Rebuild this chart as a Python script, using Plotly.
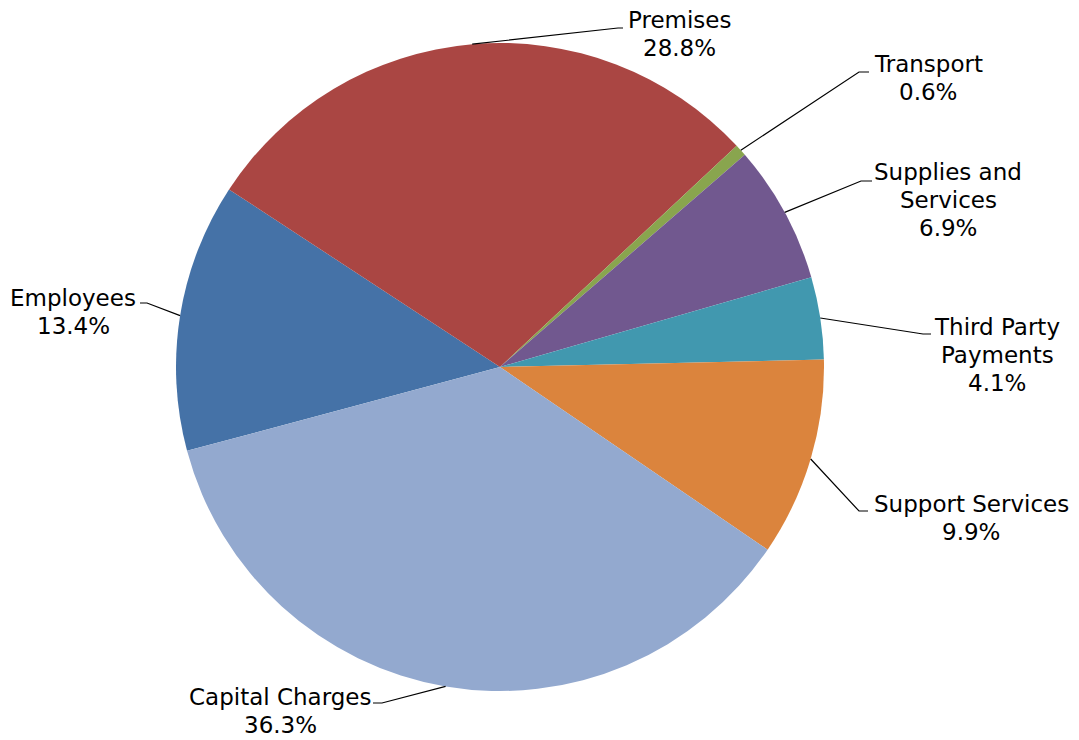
import math
import plotly.graph_objects as go

# ---- data ----
categories = ["Employees", "Premises", "Transport", "Supplies and Services",
              "Third Party Payments", "Support Services", "Capital Charges"]
shares = [13.4, 28.8, 0.6, 6.9, 4.1, 9.9, 36.3]
label_lines = [["Employees", "13.4%"], ["Premises", "28.8%"], ["Transport", "0.6%"],
               ["Supplies and", "Services", "6.9%"], ["Third Party", "Payments", "4.1%"],
               ["Support Services", "9.9%"], ["Capital Charges", "36.3%"]]
colors = ["#4572A7", "#AA4643", "#89A54E", "#71588F", "#4198AF", "#DB843D", "#93A9CF"]

# ---- layout (pixels) ----
W, H = 1079, 740
CX, CY, R = 500, 367, 324
ROTATION = -105
LINE_GAP = 28
FONT_SIZE = 23
# text block centre, elbow point, line end (pixel positions)
label_pos = [(73, 312), (679, 34), (928, 78), (948, 200), (997, 355), (971, 518), (280, 711)]
elbows = [(147, 303), (618, 28), (859, 72), (861, 181), (923, 334), (859, 511), (382, 703)]
ends = [(140, 303), (623, 28), (869, 72), (872, 181), (931, 334), (868, 511), (373, 703)]

fig = go.Figure()
fig.add_trace(go.Pie(
    labels=categories, values=shares, sort=False, direction="clockwise",
    rotation=ROTATION, textinfo="none", hoverinfo="label+percent",
    marker=dict(colors=colors, line=dict(width=0)),
    domain=dict(x=[(CX - R) / W, (CX + R) / W], y=[(H - CY - R) / H, (H - CY + R) / H]),
    showlegend=False,
))

total = sum(shares)
cum = 0.0
shapes = []
annotations = []
for i, v in enumerate(shares):
    mid = ROTATION + (cum + v / 2) / total * 360.0
    cum += v
    a = math.radians(mid)
    ex, ey = CX + R * math.sin(a), CY - R * math.cos(a)
    (bx, by), (fx, fy) = elbows[i], ends[i]
    shapes.append(dict(type="path", xref="x", yref="y",
                       path=f"M {ex:.1f},{ey:.1f} L {bx},{by} L {fx},{fy}",
                       line=dict(color="black", width=1.2)))
    tx, ty = label_pos[i]
    n = len(label_lines[i])
    for k, line in enumerate(label_lines[i]):
        annotations.append(dict(x=tx, y=ty + (k - (n - 1) / 2) * LINE_GAP,
                                xref="x", yref="y", text=line,
                                showarrow=False, xanchor="center", yanchor="middle",
                                font=dict(family="DejaVu Sans, Verdana, sans-serif",
                                          size=FONT_SIZE, color="black")))

fig.update_layout(
    width=W, height=H, margin=dict(l=0, r=0, t=0, b=0),
    paper_bgcolor="white", plot_bgcolor="white",
    xaxis=dict(range=[0, W], visible=False, fixedrange=True),
    yaxis=dict(range=[H, 0], visible=False, fixedrange=True),
    shapes=shapes, annotations=annotations,
)
fig.write_html("out.html")
